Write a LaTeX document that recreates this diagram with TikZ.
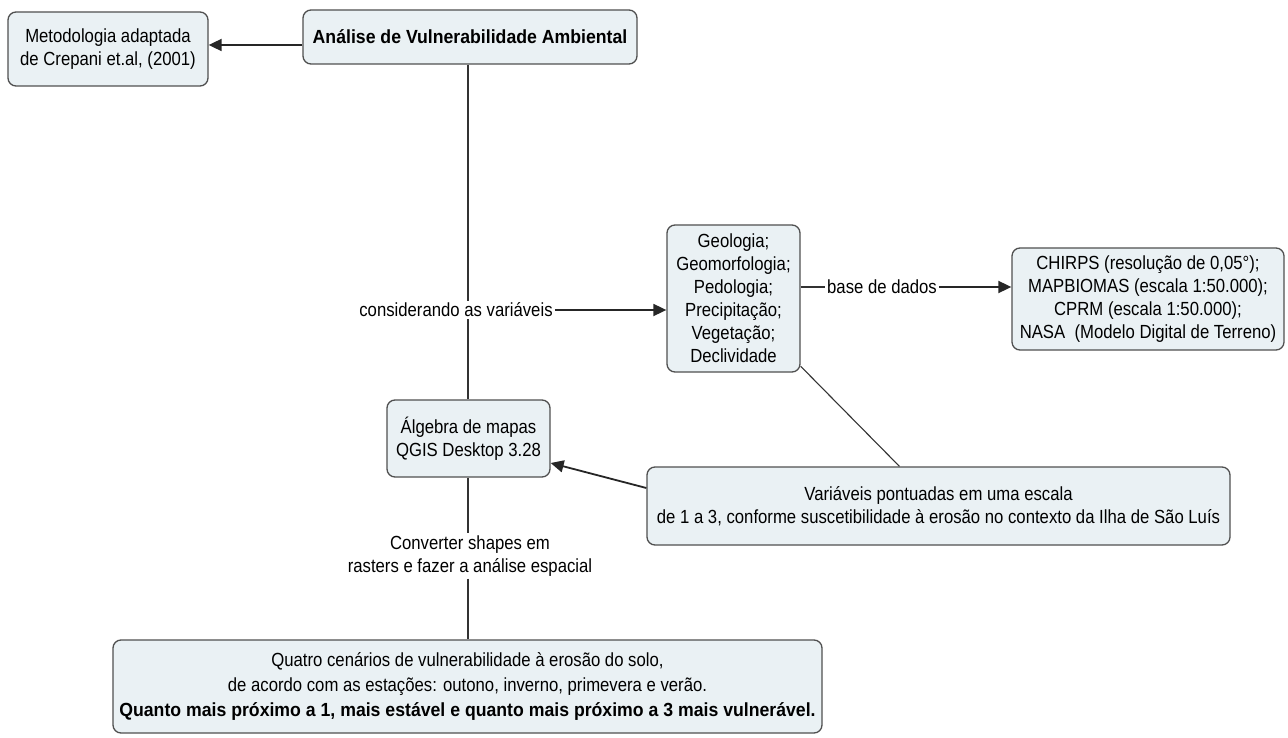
\documentclass[tikz,border=0pt]{standalone}
\usepackage{fontspec}
\setmainfont{Liberation Sans}[FakeStretch=0.88, BoldFeatures={FakeStretch=0.93}]
\usetikzlibrary{arrows.meta}
\definecolor{boxfill}{HTML}{EAF1F4}
\definecolor{boxline}{HTML}{505050}
\begin{document}
\begin{tikzpicture}[x=1pt,y=-1pt,
  font=\fontsize{19}{23}\selectfont,
  concept/.style={draw=boxline, line width=1.3pt, fill=boxfill, rounded corners=8pt,
    align=center, inner sep=0pt},
  linkph/.style={fill=white, align=center, inner sep=2pt},
  conn/.style={draw=black!80, line width=1.1pt},
  arr/.style={draw=black!85, line width=1.8pt, -{Triangle[length=13pt,width=12pt]}}]
\useasboundingbox (0,0) rectangle (1288,738);
% concepts
\node[concept, minimum width=200pt, minimum height=74pt] (meto) at (108,49)
  {Metodologia adaptada\\de Crepani et.al, (2001)};
\node[concept, minimum width=334pt, minimum height=54pt, font=\fontsize{19}{23}\selectfont\bfseries] (main) at (470,37)
  {Análise de Vulnerabilidade Ambiental};
\node[concept, minimum width=133pt, minimum height=147pt] (geo) at (733.5,298.5)
  {Geologia;\\Geomorfologia;\\Pedologia;\\Precipitação;\\Vegetação;\\Declividade};
\node[concept, minimum width=272pt, minimum height=102pt] (chirps) at (1148,299)
  {CHIRPS (resolução de 0,05°);\\MAPBIOMAS (escala 1:50.000);\\CPRM (escala 1:50.000);\\NASA\ \ (Modelo Digital de Terreno)};
\node[concept, minimum width=163pt, minimum height=77pt] (alg) at (468.5,438.5)
  {Álgebra de mapas\\QGIS Desktop 3.28};
\node[concept, minimum width=583pt, minimum height=78pt] (var) at (938.5,506)
  {Variáveis pontuadas em uma escala\\de 1 a 3, conforme suscetibilidade à erosão no contexto da Ilha de São Luís};
\node[concept, minimum width=709pt, minimum height=93pt, font=\fontsize{19}{25}\selectfont] (quatro) at (467.5,686.5)
  {Quatro cenários de vulnerabilidade à erosão do solo,\\de acordo com as estações: outono, inverno, primevera e verão.\\\textbf{Quanto mais próximo a 1, mais estável e quanto mais próximo a 3 mais vulnerável.}};
% linking phrases
\node[linkph] (lab1) at (456,310) {considerando as variáveis};
\node[linkph] (lab2) at (882,287) {base de dados};
\node[linkph] (lab3) at (470,556) {Converter shapes em\\rasters e fazer a análise espacial};
% connectors
\draw[arr] (main.west |- 0,45) -- (meto.east |- 0,45);
\draw[conn] (main.south -| 468,0) -- (lab1.north -| 468,0);
\draw[conn] (lab1.south -| 468,0) -- (alg.north -| 468,0);
\draw[arr] (lab1.east) -- (geo.west |- lab1.east);
\draw[conn] (geo.east |- lab2.west) -- (lab2.west);
\draw[arr] (lab2.east) -- (chirps.west |- lab2.east);
\draw[conn] (geo) -- (var);
\draw[arr] (var.west |- 0,488) -- (alg.east |- 0,463);
\draw[conn] (alg.south -| 468,0) -- (lab3.north -| 468,0);
\draw[conn] (lab3.south -| 468,0) -- (quatro.north -| 468,0);
\end{tikzpicture}
\end{document}
